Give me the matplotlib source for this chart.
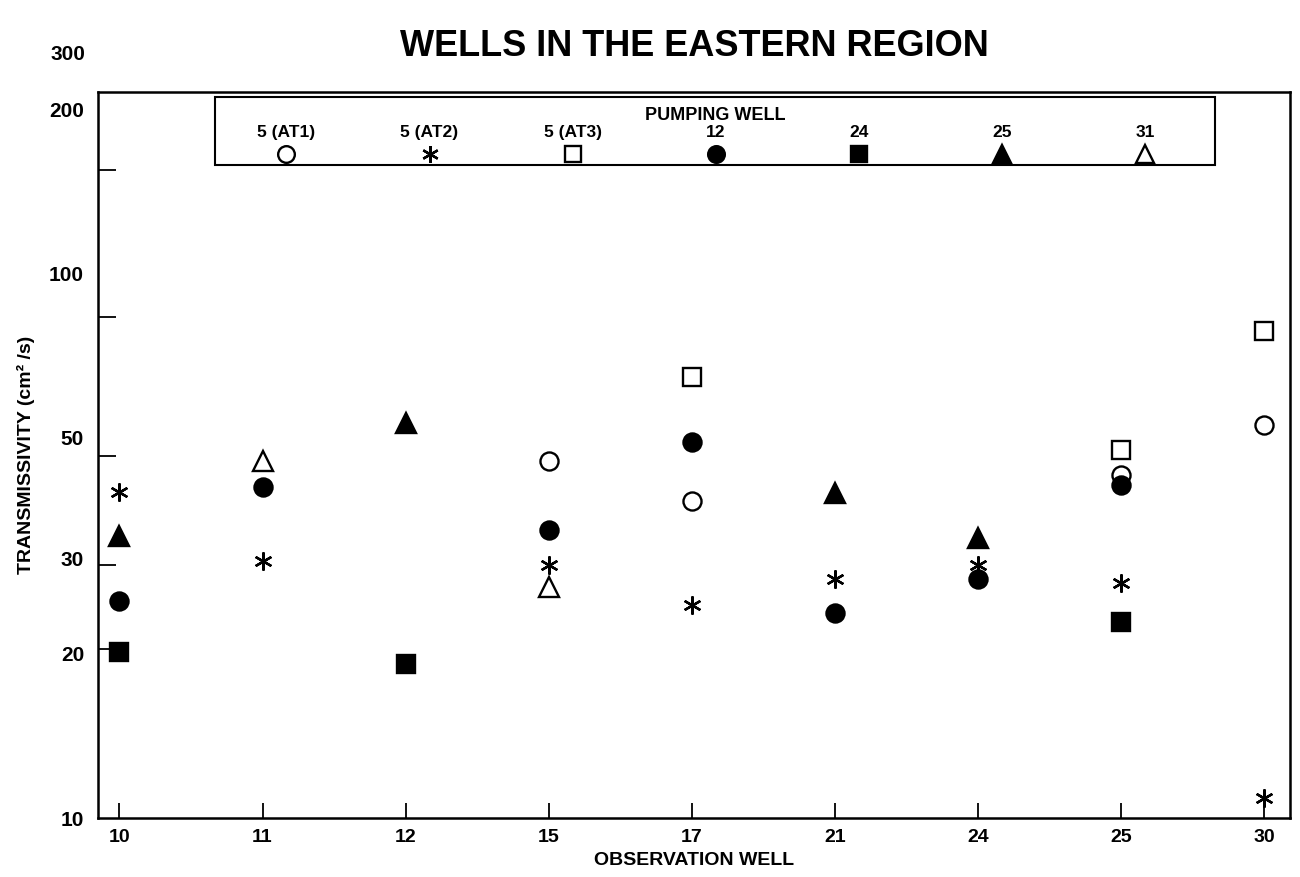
import numpy as np
import matplotlib
matplotlib.use("Agg")
import matplotlib.pyplot as plt
import matplotlib.transforms as mtransforms
from matplotlib.ticker import FixedLocator, NullFormatter
from matplotlib.patches import Rectangle

plt.rcParams['font.family'] = ['Liberation Sans', 'DejaVu Sans']
plt.rcParams['font.weight'] = 'bold'

# observation wells (x categories)
obs_wells = ['10', '11', '12', '15', '17', '21', '24', '25', '30']

# transmissivity (cm2/s) per pumping well, NaN = no test
nan = np.nan
t_at1 = [nan, nan, nan, 45.2, 38.2, nan, nan, 42.6, 52.6]
t_at2 = [39.7, 29.6, nan, 29.1, 24.6, 27.4, 29.1, 27.0, 10.9]
t_at3 = [nan, nan, nan, nan, 64.5, nan, nan, 47.4, 78.3]
t_w12 = [25.0, 40.5, nan, 33.8, 49.0, 23.8, 27.4, 40.8, nan]
t_w24 = [20.2, nan, 19.2, nan, nan, nan, nan, 22.9, nan]
t_w25 = [32.9, nan, 53.1, nan, nan, 39.5, 32.6, nan, nan]
t_w31 = [nan, 45.2, nan, 26.5, nan, nan, nan, nan, nan]

pump_labels = ['5 (AT1)', '5 (AT2)', '5 (AT3)', '12', '24', '25', '31']
series = [t_at1, t_at2, t_at3, t_w12, t_w24, t_w25, t_w31]

# marker styles: (marker, size, facecolor)
asterisk = (6, 2, 0)
styles = [
    ('o', 13, 'white'),
    (asterisk, 13, 'black'),
    ('s', 13, 'white'),
    ('o', 13, 'black'),
    ('s', 13, 'black'),
    ('^', 14, 'black'),
    ('^', 14, 'white'),
]

y_labels = [10, 20, 30, 50, 100, 200]
y_marks = [20.4, 29.1, 46.1, 83.0, 154.5]

fig = plt.figure(figsize=(13, 8.77), dpi=100)
ax = fig.add_axes([98 / 1300, 1 - 818 / 877, 1192 / 1300, 726 / 877])

x = np.arange(len(obs_wells))
for vals, (m, ms, fc) in zip(series, styles):
    ax.plot(x, vals, linestyle='none', marker=m, markersize=ms,
            markerfacecolor=fc, markeredgecolor='black', markeredgewidth=1.7,
            color='black')

ax.set_yscale('log')
ax.set_ylim(10, 215)
ax.set_xlim(-0.15, 8.18)

ax.set_xticks(x)
ax.set_xticklabels(obs_wells, fontsize=14, fontweight='bold')
ax.tick_params(axis='x', direction='in', length=11, width=1.3, pad=8)

ax.yaxis.set_major_locator(FixedLocator(y_labels))
ax.set_yticklabels([str(v) for v in y_labels], fontsize=15, fontweight='bold')
ax.yaxis.set_minor_locator(FixedLocator(y_marks))
ax.yaxis.set_minor_formatter(NullFormatter())
ax.tick_params(axis='y', which='major', length=0, pad=10)
ax.tick_params(axis='y', which='minor', direction='in', length=13, width=1.3)

for sp in ax.spines.values():
    sp.set_linewidth(1.8)

ax.set_xlabel('OBSERVATION WELL', fontsize=14, fontweight='bold', labelpad=4)
ax.set_ylabel('TRANSMISSIVITY (cm² /s)', fontsize=14, fontweight='bold', labelpad=10)
ax.set_title('WELLS IN THE EASTERN REGION', fontsize=26, fontweight='bold', pad=26)

fig.text(85 / 1300, 1 - 55 / 877, '300', ha='right', va='center',
         fontsize=15, fontweight='bold')

# legend box for pumping wells
box = Rectangle((0.098, 0.899), 0.839, 0.094, transform=ax.transAxes,
                fill=False, edgecolor='black', linewidth=1.5, clip_on=False)
ax.add_patch(box)
ax.text(0.5176, 0.968, 'PUMPING WELL', transform=ax.transAxes, ha='center',
        va='center', fontsize=13, fontweight='bold')

trans = mtransforms.blended_transform_factory(ax.transData, ax.transAxes)
for i, (lab, (m, ms, fc)) in enumerate(zip(pump_labels, styles)):
    lx = 1.167 + i
    ax.text(lx, 0.9445, lab, transform=trans, ha='center', va='center',
            fontsize=12.5, fontweight='bold')
    ax.plot([lx], [0.9145], transform=trans, linestyle='none', marker=m,
            markersize=ms - 1, markerfacecolor=fc, markeredgecolor='black',
            markeredgewidth=1.7, clip_on=False)

fig.savefig('out.png', dpi=100)
